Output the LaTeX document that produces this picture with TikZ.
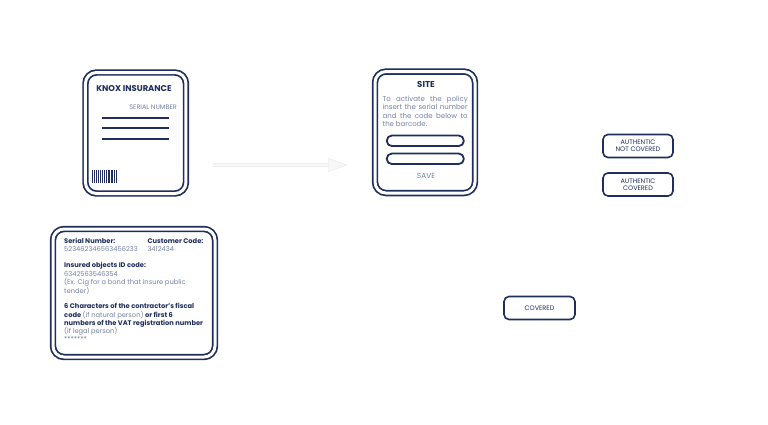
\documentclass[tikz,border=0pt]{standalone}
\usepackage{fontspec}
\setmainfont{Poppins}
\usetikzlibrary{arrows.meta}
\definecolor{navy}{HTML}{1F2E5C}
\definecolor{soft}{HTML}{7482A6}
\definecolor{faint}{HTML}{EEEEEE}
\definecolor{fainter}{HTML}{F7F7F7}
\begin{document}
\begin{tikzpicture}[x=1pt,y=-1pt,
  card/.style={draw=navy, double=white, line width=1.7pt, double distance=3pt, rounded corners=11pt, inner sep=0pt, fill=white},
  btn/.style={draw=navy, line width=1.6pt, rounded corners=5pt, minimum width=70pt, minimum height=23pt, align=center, font=\fontsize{6.5}{7.2}\selectfont, text=navy, inner sep=0pt},
  field/.style={draw=navy, line width=1.8pt, rounded corners=5pt, minimum width=77pt, minimum height=10.5pt, inner sep=0pt},
  lb/.style={anchor=base west, inner sep=0pt, text=navy, font=\fontsize{6.7}{8}\selectfont\bfseries},
  lt/.style={anchor=base west, inner sep=0pt, text=soft, font=\fontsize{6.7}{8}\selectfont},
  ptxt/.style={anchor=base west, inner sep=0pt, text=soft, font=\fontsize{7}{8}\selectfont},
  rule/.style={draw=navy, line width=1.8pt},
  bar/.style={fill=navy}
]
\useasboundingbox (0,0) rectangle (768,424);
% card 1
\node[card, minimum width=100.5pt, minimum height=121pt] (c1) at (135.7,133) {};
\node[inner sep=0pt, text=navy, font=\fontsize{8.4}{10}\selectfont\bfseries] (t1) at (134,89) {KNOX INSURANCE};
\node[anchor=east, inner sep=0pt, text=soft, font=\fontsize{6.5}{7.5}\selectfont] (sn) at (177,107) {SERIAL NUMBER};
\coordinate (l1a) at (102,118.3); \coordinate (l1b) at (169,118.3);
\coordinate (l2a) at (102,128.3); \coordinate (l2b) at (169,128.3);
\coordinate (l3a) at (102,139); \coordinate (l3b) at (169,139);
\draw[rule] (l1a) -- (l1b);
\draw[rule] (l2a) -- (l2b);
\draw[rule] (l3a) -- (l3b);
\foreach \x/\w in {92/1.3,94.2/0.7,95.6/1.6,98.2/0.7,99.8/1.6,102.4/0.7,104/1.3,106.4/0.7,108/1.6,110.6/0.7,112.1/1.3,114.4/0.7,115.9/1.4}
  \fill[bar] (\x,169.5) rectangle ++(\w,13.8);
% arrow
\coordinate (arrS) at (213,165);
\coordinate (arrE) at (348,165);
\draw[faint, line width=0.9pt, double=fainter, double distance=1.4pt, shorten >=19pt] (arrS) -- (arrE);
\draw[fainter, line width=0.1pt, -{Triangle[width=14pt,length=20pt,line width=0.7pt,color=faint,fill=fainter]}] (arrS) -- (arrE);
% card 2
\node[card, minimum width=100pt, minimum height=121.5pt] (c2) at (425,132.3) {};
\node[inner sep=0pt, text=navy, font=\fontsize{8.6}{10}\selectfont\bfseries] (t2) at (426,84) {SITE};
\node[ptxt] (p1) at (382.5,101.6) {\makebox[85pt][s]{To activate the policy}};
\node[ptxt] (p2) at (382.5,109.6) {\makebox[85pt][s]{insert the serial number}};
\node[ptxt] (p3) at (382.5,118.1) {\makebox[85pt][s]{and the code below to}};
\node[ptxt] (p4) at (382.5,126.6) {the barcode.};
\node[field] (f1) at (425.3,140.8) {};
\node[field] (f2) at (425.3,158.8) {};
\node[inner sep=0pt, text=soft, font=\fontsize{7.4}{8}\selectfont] (save) at (426,176) {SAVE};
% card 3
\node[card, minimum width=162pt, minimum height=128pt] (c3) at (134,293) {};
\node[lb] (s1) at (64,243.4) {Serial Number:};
\node[lb] (s2) at (147.3,243.4) {Customer Code:};
\node[lt] (s3) at (64,251.2) {523462346563456233};
\node[lt] (s4) at (147.3,251.2) {3412434};
\node[lb] (s5) at (64,267.7) {Insured objects ID code:};
\node[lt] (s6) at (64,276.2) {6342563546354};
\node[lt] (s7) at (64,284.4) {(Ex. Cig for a bond that insure public};
\node[lt] (s8) at (64,293.2) {tender)};
\node[lb] (s9) at (64,308.4) {6 Characters of the contractor's fiscal};
\node[lb] (s10) at (64,317.1) {code \textcolor{soft}{\mdseries(if natural person)} or first 6};
\node[lb] (s11) at (64,325.1) {numbers of the VAT registration number};
\node[lt] (s12) at (64,333.4) {(if legal person)};
\node[lt] (s13) at (64,341.2) {*******};
% buttons
\node[btn] (b1) at (638,146) {AUTHENTIC\\NOT COVERED};
\node[btn] (b2) at (638,184.5) {AUTHENTIC\\COVERED};
\node[btn, minimum width=71pt] (b3) at (539.5,308) {COVERED};
\end{tikzpicture}
\end{document}
